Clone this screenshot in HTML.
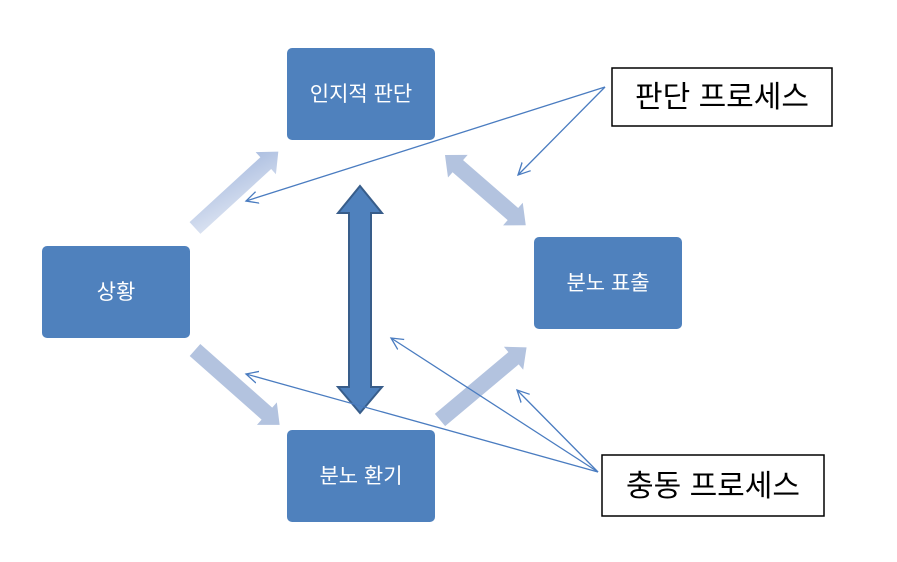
<!DOCTYPE html>
<html><head><meta charset="utf-8"><style>
body{margin:0;background:#fff;width:897px;height:562px;overflow:hidden}
svg{display:block}
text{font-family:"Liberation Sans","Noto Sans CJK KR",sans-serif}
</style></head><body>
<svg width="897" height="562" viewBox="0 0 897 562">
<defs>
<linearGradient id="g1" x1="0" y1="1" x2="1" y2="0">
<stop offset="0" stop-color="#dfe6f3"/><stop offset="1" stop-color="#a9bcdf"/></linearGradient>
<marker id="ah" markerWidth="14" markerHeight="14" refX="12" refY="7" orient="auto" markerUnits="userSpaceOnUse">
<path d="M0,1 L12,7 L0,13" fill="none" stroke="#4a7cc0" stroke-width="1.3"/></marker>
</defs>
<g fill="#4f81bd">
<rect x="287" y="48" width="148" height="92" rx="5"/>
<rect x="42" y="246" width="148" height="92" rx="5"/>
<rect x="534" y="237" width="148" height="92" rx="5"/>
<rect x="287" y="430" width="148" height="92" rx="5"/>
</g>
<g fill="#fff" font-size="21" text-anchor="middle">
<text x="361" y="101">인지적 판단</text>
<text x="116" y="299">상황</text>
<text x="608" y="290">분노 표출</text>
<text x="361" y="483">분노 환기</text>
</g>
<g transform="translate(195,228) rotate(-42.5)"><path d="M0,-8 L96,-8 L96,-15 L113,0 L96,15 L96,8 L0,8Z" fill="url(#g1)"/></g>
<g transform="translate(445,155) rotate(41)" fill="#b3c3df"><path d="M0,0 L17,-15 L17,-8 L90,-8 L90,-15 L107,0 L90,15 L90,8 L17,8 L17,15Z"/></g>
<g transform="translate(195,350) rotate(41.5)" fill="#b3c3df"><path d="M0,-8 L96,-8 L96,-15 L113,0 L96,15 L96,8 L0,8Z"/></g>
<g transform="translate(440,420) rotate(-40)" fill="#b3c3df"><path d="M0,-8 L96,-8 L96,-15 L113,0 L96,15 L96,8 L0,8Z"/></g>
<path d="M360,186 L382,213 L371,213 L371,387 L382,387 L360,413 L338,387 L349,387 L349,213 L338,213Z" fill="#4f81bd" stroke="#385d8a" stroke-width="2"/>
<g stroke="#4a7cc0" stroke-width="1.3" fill="none" marker-end="url(#ah)">
<line x1="605" y1="87" x2="246" y2="201"/>
<line x1="605" y1="87" x2="518" y2="175"/>
<line x1="598" y1="472" x2="246" y2="374"/>
<line x1="598" y1="472" x2="391" y2="338"/>
<line x1="598" y1="472" x2="517" y2="390"/>
</g>
<rect x="612" y="68" width="220" height="58" fill="#fff" stroke="#000" stroke-width="1.5"/>
<text x="722" y="107" font-size="30" text-anchor="middle">판단 프로세스</text>
<rect x="602" y="455" width="222" height="61" fill="#fff" stroke="#000" stroke-width="1.5"/>
<text x="713" y="496" font-size="30" text-anchor="middle">충동 프로세스</text>
</svg>
</body></html>
